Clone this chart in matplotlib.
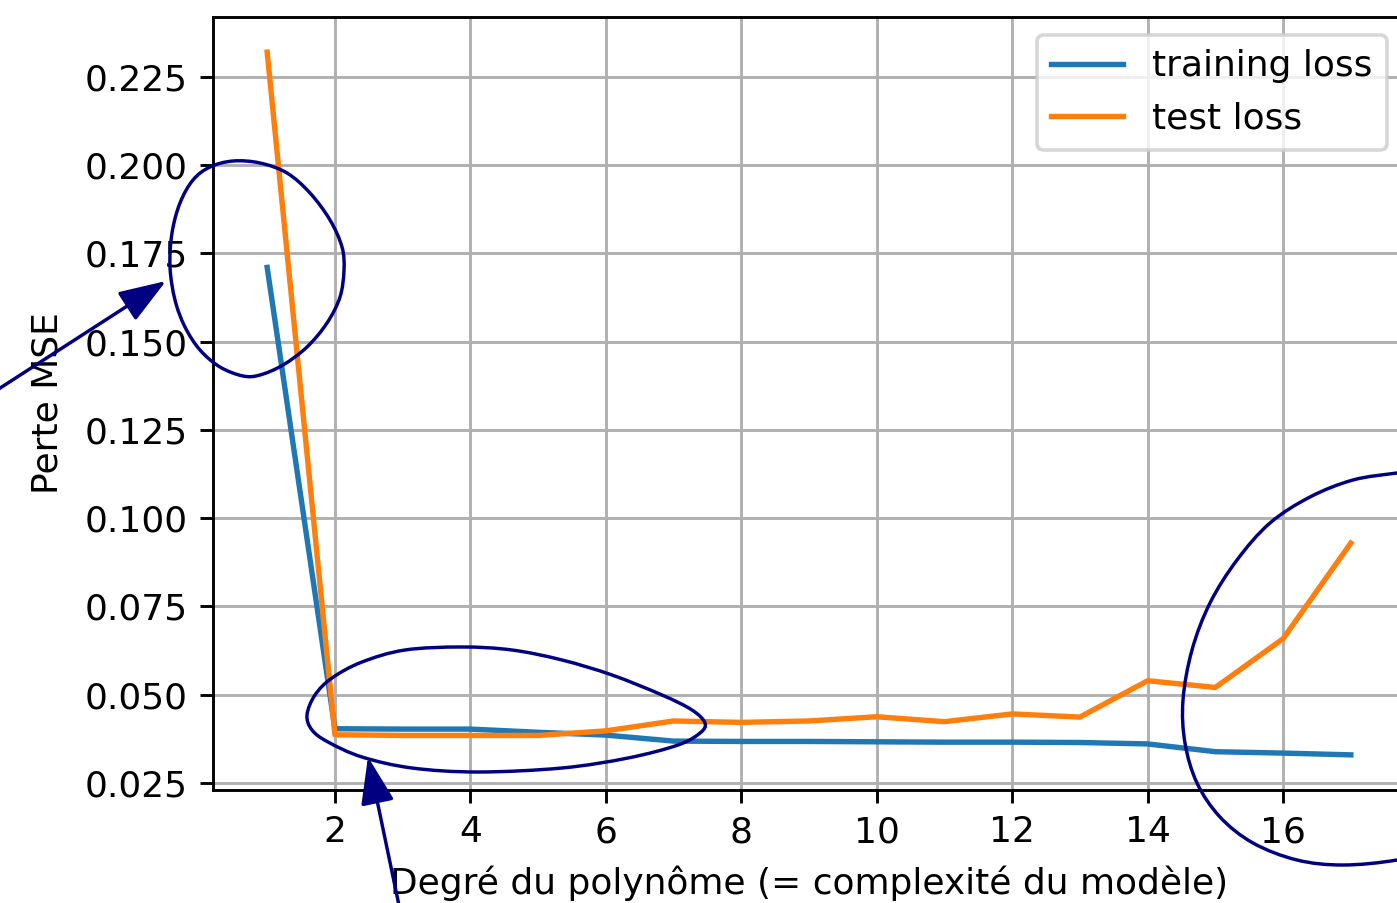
import numpy as np
import matplotlib
matplotlib.use("Agg")
import matplotlib.pyplot as plt
from matplotlib.path import Path
from matplotlib.patches import PathPatch, FancyArrowPatch, ArrowStyle
from matplotlib import transforms

# Polynomial degree vs. MSE loss
degrees = list(range(1, 18))
train_loss = [0.171, 0.0403, 0.0402, 0.0402, 0.0393, 0.0385, 0.0368, 0.0367,
              0.0367, 0.0366, 0.0365, 0.0365, 0.0364, 0.0360, 0.0338, 0.0334, 0.0329]
test_loss = [0.232, 0.0386, 0.0384, 0.0384, 0.0384, 0.0397, 0.0425, 0.0421,
             0.0425, 0.0437, 0.0423, 0.0445, 0.0436, 0.0539, 0.0520, 0.0658, 0.0929]

W, H, DPI = 1397, 903, 259.2
fig = plt.figure(figsize=(W / DPI, H / DPI), dpi=DPI)
ax = fig.add_axes([213 / W, 1 - 790 / H, (1405 - 213) / W, (790 - 17) / H])

ax.plot(degrees, train_loss, label="training loss")
ax.plot(degrees, test_loss, label="test loss")
ax.grid(True)
ax.legend(loc="upper right")
ax.set_xlabel("Degré du polynôme (= complexité du modèle)", labelpad=4.5)
ax.set_ylabel("Perte MSE", labelpad=5.5)

# Hand-drawn highlights, expressed in pixel coordinates of the figure
px = transforms.Affine2D().scale(1 / W, -1 / H).translate(0, 1) + fig.transFigure
NAVY = "#000080"


def closed_curve(points):
    """Smooth closed Catmull-Rom curve through the given points, as a Bezier path."""
    p = np.asarray(points, dtype=float)
    n = len(p)
    verts = [p[0]]
    codes = [Path.MOVETO]
    for i in range(n):
        p0, p1, p2, p3 = p[i - 1], p[i], p[(i + 1) % n], p[(i + 2) % n]
        c1 = p1 + (p2 - p0) / 6
        c2 = p2 - (p3 - p1) / 6
        verts += [c1, c2, p2]
        codes += [Path.CURVE4] * 3
    return Path(verts, codes)


loops = [
    [(233, 161), (260, 163), (287, 173), (310, 193), (330, 220), (342, 247),
     (344, 270), (340, 297), (327, 323), (307, 347), (283, 365), (260, 375),
     (243, 376), (220, 367), (200, 350), (185, 327), (175, 300), (170, 267),
     (172, 233), (180, 203), (193, 180), (210, 167)],
    [(462, 647), (512, 650), (562, 660), (612, 675), (662, 695), (692, 710),
     (705, 723), (700, 733), (678, 745), (628, 758), (562, 768), (478, 772),
     (412, 768), (362, 757), (328, 742), (312, 730), (307, 715), (315, 695),
     (332, 678), (362, 662), (405, 650)],
    [(1397, 473), (1440, 468), (1485, 480), (1515, 530), (1530, 620),
     (1525, 720), (1495, 800), (1445, 848), (1397, 860), (1343, 865),
     (1297, 860), (1253, 843), (1220, 817), (1197, 783), (1185, 743),
     (1183, 700), (1192, 650), (1210, 603), (1237, 560), (1270, 523),
     (1310, 497), (1353, 480)],
]
for pts in loops:
    fig.add_artist(PathPatch(closed_curve(pts), transform=px, fill=False,
                             edgecolor=NAVY, lw=0.95, clip_on=False))

head = ArrowStyle("-|>", head_length=1.4, head_width=0.5)
for start, tip in [((-20, 401), (166, 281)), ((401, 915), (368, 757))]:
    fig.add_artist(FancyArrowPatch(start, tip, transform=px, arrowstyle=head,
                                   mutation_scale=8, color=NAVY, lw=0.95,
                                   shrinkA=0, shrinkB=0))

fig.savefig("out.png", dpi=DPI)
